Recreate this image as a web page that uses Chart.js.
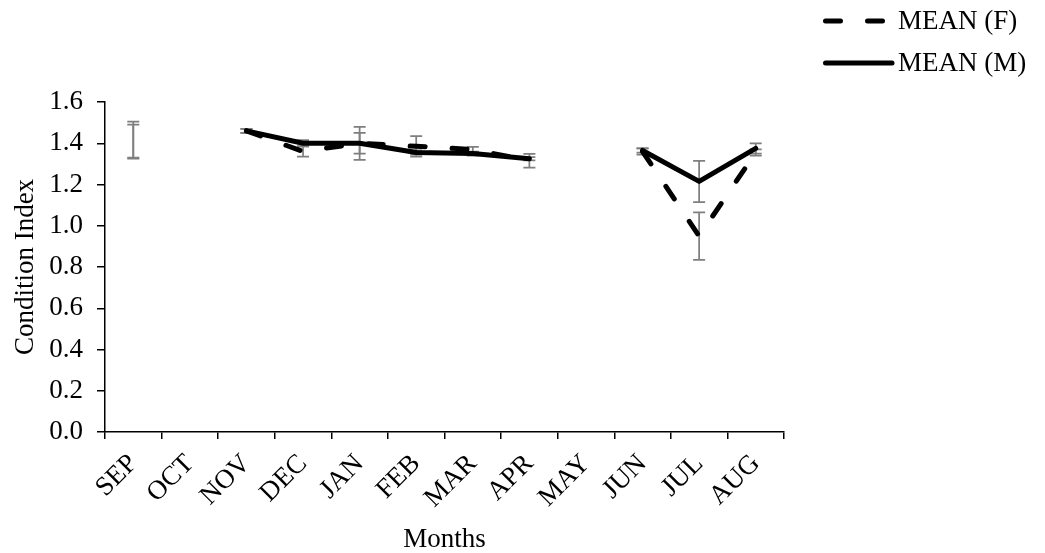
<!DOCTYPE html>
<html>
<head>
<meta charset="utf-8">
<script src="https://cdn.jsdelivr.net/npm/chart.js@4"></script>
<style>
  html, body { margin: 0; padding: 0; background: #fff; }
  #wrap { width: 1045px; height: 553px; }
</style>
</head>
<body>
<div id="wrap"><canvas id="ciChart" width="1045" height="553"></canvas></div>
<script>
// Monthly condition index, females vs males
const months = ['SEP', 'OCT', 'NOV', 'DEC', 'JAN', 'FEB', 'MAR', 'APR', 'MAY', 'JUN', 'JUL', 'AUG'];
const meanF = [1.415, null, 1.46, 1.36, 1.40, 1.385, 1.37, 1.315, null, 1.36, 0.95, 1.355];
const errF  = [0.09, null, 0.01, 0.025, 0.08, 0.05, 0.012, 0.033, null, 0.015, 0.115, 0.015];
const meanM = [1.41, null, 1.46, 1.40, 1.40, 1.355, 1.35, 1.325, null, 1.365, 1.215, 1.375];
const errM  = [0.08, null, 0.01, 0.015, 0.05, 0.01, 0.01, 0.008, null, 0.01, 0.10, 0.025];
const yTicks = [0, 0.2, 0.4, 0.6, 0.8, 1.0, 1.2, 1.4, 1.6];

const FONT = 'Liberation Serif, "Times New Roman", serif';

// a month with no neighbours has nothing to connect to, so it gets no line
function lineOnly(arr) {
    return arr.map((v, i) => (arr[i - 1] == null && arr[i + 1] == null) ? null : v);
}

// gray error bars, drawn under the lines
const errorBars = {
    id: 'errorBars',
    beforeDatasetsDraw(chart) {
        const { ctx, scales: { x, y } } = chart;
        ctx.save();
        ctx.strokeStyle = '#7f7f7f';
        ctx.lineWidth = 1.75;
        [[meanF, errF], [meanM, errM]].forEach(([means, errs]) => {
            means.forEach((m, i) => {
                if (m === null || errs[i] === null) return;
                const px = x.getPixelForValue(i);
                const top = y.getPixelForValue(m + errs[i]);
                const bot = y.getPixelForValue(m - errs[i]);
                ctx.beginPath();
                ctx.moveTo(px, top); ctx.lineTo(px, bot);
                ctx.moveTo(px - 6, top); ctx.lineTo(px + 6, top);
                ctx.moveTo(px - 6, bot); ctx.lineTo(px + 6, bot);
                ctx.stroke();
            });
        });
        ctx.restore();
    }
};

// legend in the top right corner, one row per series
const cornerLegend = {
    id: 'cornerLegend',
    afterDraw(chart) {
        const { ctx } = chart;
        const rows = [21, 63];
        const lineEnd = [885, 892];
        ctx.save();
        ctx.font = '27px ' + FONT;
        ctx.fillStyle = '#000';
        ctx.textBaseline = 'middle';
        chart.data.datasets.forEach((ds, i) => {
            const yy = rows[i];
            ctx.beginPath();
            ctx.strokeStyle = ds.borderColor;
            ctx.lineWidth = ds.borderWidth;
            ctx.lineCap = 'round';
            ctx.setLineDash(ds.borderDash || []);
            ctx.moveTo(825.5, yy);
            ctx.lineTo(lineEnd[i], yy);
            ctx.stroke();
            ctx.setLineDash([]);
            ctx.fillText(ds.label, 898, yy + 1);
        });
        ctx.restore();
    }
};

new Chart(document.getElementById('ciChart'), {
    type: 'line',
    data: {
        labels: months,
        datasets: [
            {
                label: 'MEAN (F)',
                data: lineOnly(meanF),
                borderColor: '#000',
                borderWidth: 5,
                borderDash: [15, 27],
                borderCapStyle: 'round',
                pointRadius: 0,
                tension: 0,
                spanGaps: false,
                order: 2
            },
            {
                label: 'MEAN (M)',
                data: lineOnly(meanM),
                borderColor: '#000',
                borderWidth: 5,
                borderCapStyle: 'round',
                borderJoinStyle: 'round',
                pointRadius: 0,
                tension: 0,
                spanGaps: false,
                order: 1
            }
        ]
    },
    options: {
        responsive: false,
        animation: false,
        layout: { padding: { left: 10, top: 102, right: 261, bottom: 0 } },
        plugins: {
            legend: { display: false },
            tooltip: { enabled: false }
        },
        scales: {
            x: {
                offset: true,
                grid: { offset: true, drawOnChartArea: false, tickLength: 7, color: '#000', lineWidth: 1.5 },
                border: { display: true, color: '#000', width: 1.5 },
                ticks: {
                    autoSkip: false, minRotation: 45, maxRotation: 45,
                    color: '#000', padding: 9,
                    font: { family: FONT, size: 27 }
                },
                title: {
                    display: true, text: 'Months', color: '#000',
                    font: { family: FONT, size: 27, lineHeight: 1.0 }, padding: { top: 0, bottom: 0 }
                },
                afterFit(scale) { scale.height = 121; }
            },
            y: {
                min: 0, max: 1.6,
                afterBuildTicks(scale) { scale.ticks = yTicks.map(v => ({ value: v })); },
                grid: { drawOnChartArea: false, tickLength: 8, color: '#000', lineWidth: 1.5 },
                border: { display: true, color: '#000', width: 1.5 },
                ticks: {
                    color: '#000', padding: 14,
                    font: { family: FONT, size: 27 },
                    callback: v => v.toFixed(1)
                },
                title: {
                    display: true, text: 'Condition Index', color: '#000',
                    font: { family: FONT, size: 27 }, padding: { top: 0, bottom: 0 }
                },
                afterFit(scale) { scale.width = 95; }
            }
        }
    },
    plugins: [errorBars, cornerLegend]
});
</script>
</body>
</html>
